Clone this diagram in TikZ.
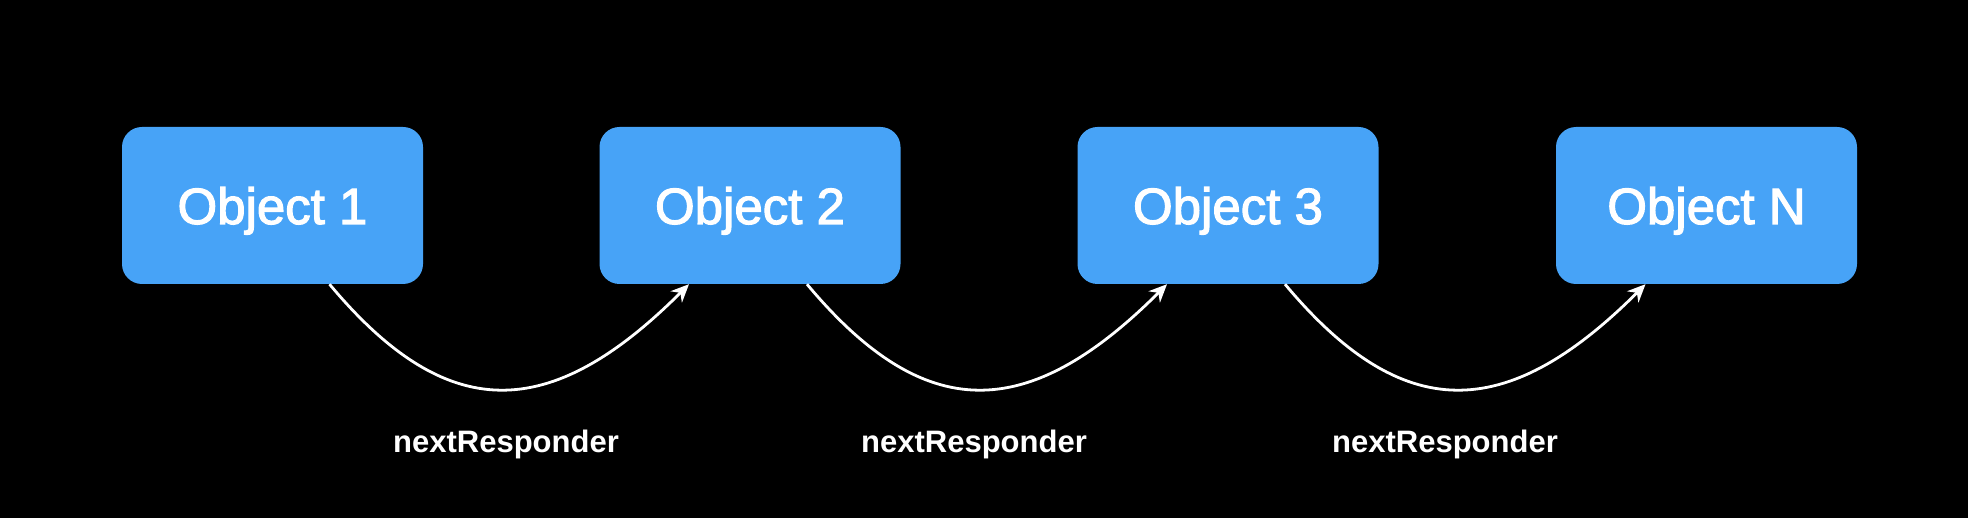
\documentclass[tikz,border=0pt]{standalone}
\usepackage{fontspec}
\setmainfont{Liberation Sans}
\newfontfamily\medfont[FakeBold=2.2]{Liberation Sans}
\usetikzlibrary{arrows.meta}
\definecolor{boxblue}{HTML}{47A3F7}
\begin{document}
\begin{tikzpicture}[x=1pt,y=-1pt,
  objbox/.style={fill=boxblue, rounded corners=20pt, minimum width=301pt, minimum height=157pt, inner sep=0pt, text height=37pt, text depth=0pt, text=white, font=\medfont\fontsize{51}{60}\selectfont},
  link/.style={draw=white, line width=2.8pt, -{Stealth[length=18pt,width=16pt]}},
  lbl/.style={text=white, inner sep=0pt, font=\bfseries\fontsize{31}{36}\selectfont}]
\fill[black] (0,0) rectangle (1968,518);
\useasboundingbox (0,0) rectangle (1968,518);
\node[objbox] (o1) at (272.5,205.5) {Object 1};
\node[objbox] (o2) at (750,205.5) {Object 2};
\node[objbox] (o3) at (1228,205.5) {Object 3};
\node[objbox] (oN) at (1706.5,205.5) {Object N};
\draw[link] ([xshift=57pt]o1.south) .. controls +(117,140) and +(-140,140) .. ([xshift=-61pt]o2.south);
\draw[link] ([xshift=57pt]o2.south) .. controls +(117,140) and +(-140,140) .. ([xshift=-61pt]o3.south);
\draw[link] ([xshift=57pt]o3.south) .. controls +(117,140) and +(-140,140) .. ([xshift=-61pt]oN.south);
\node[lbl] (l1) at (506,444) {nextResponder};
\node[lbl] (l2) at (974,444) {nextResponder};
\node[lbl] (l3) at (1445,444) {nextResponder};
\end{tikzpicture}
\end{document}
